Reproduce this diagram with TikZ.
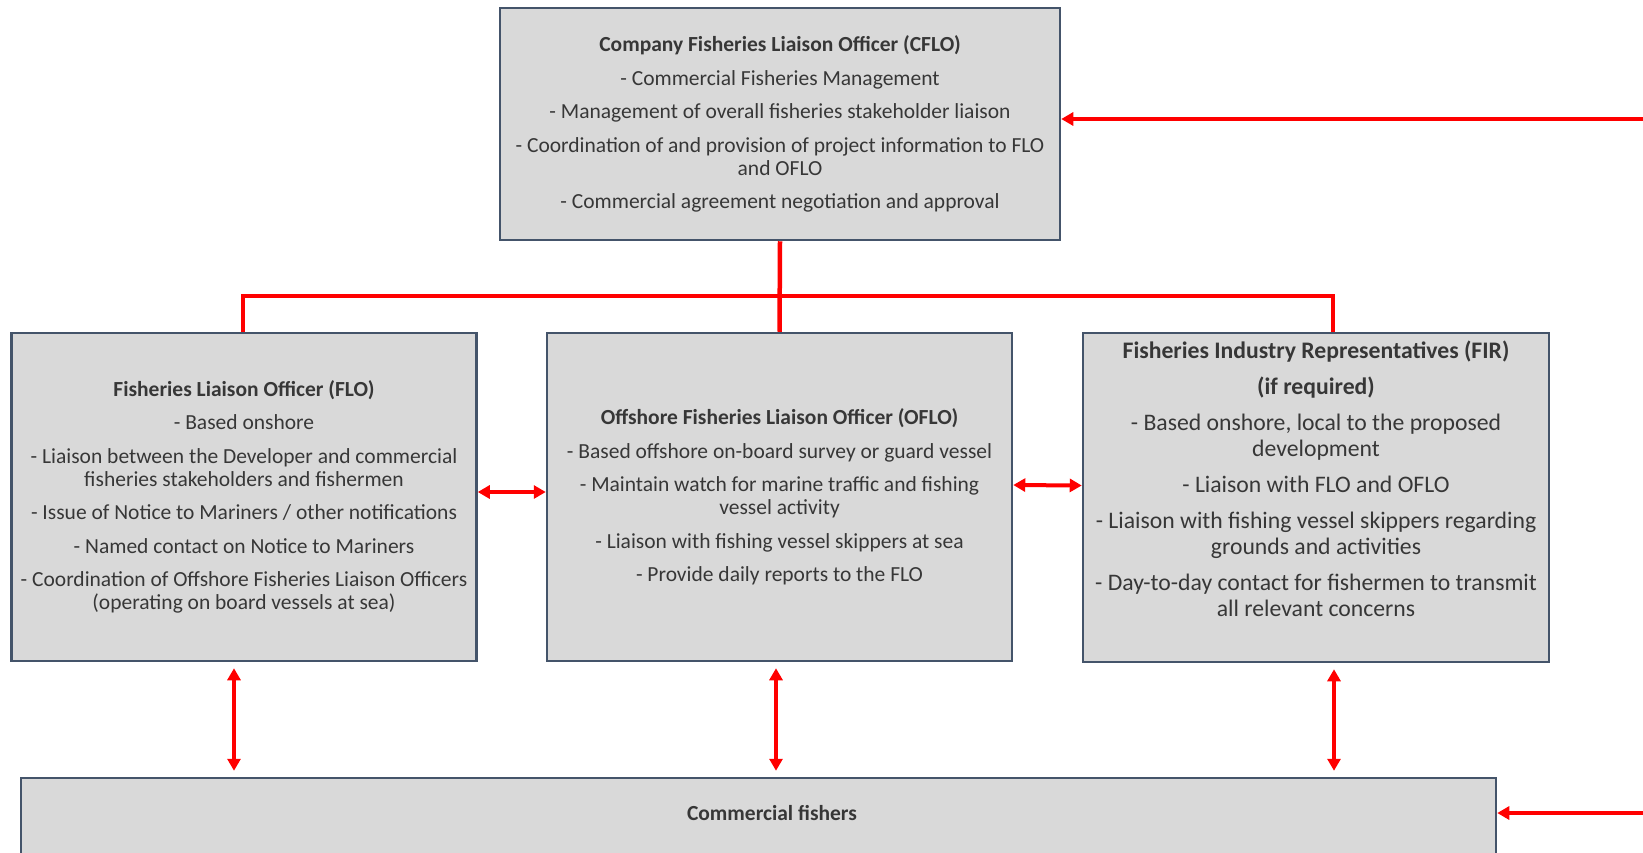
\documentclass[tikz,border=0pt]{standalone}
\usepackage{fontspec}
\setmainfont{Carlito}
\usetikzlibrary{arrows.meta,calc}
\definecolor{boxfill}{RGB}{217,217,217}
\definecolor{boxline}{RGB}{68,84,106}
\definecolor{txt}{RGB}{55,55,55}
\definecolor{lnk}{RGB}{255,0,0}
\tikzset{
  orgbox/.style={draw=boxline,line width=2.5pt,fill=boxfill,rectangle,inner sep=0pt},
  boxtext/.style={align=center,text=txt,font=\fontsize{21.5}{23}\selectfont,inner sep=0pt},
  firtext/.style={align=center,text=txt,font=\fontsize{23.7}{26}\selectfont,inner sep=0pt},
  conn/.style={draw=lnk,line width=4.5pt},
  dblarrow/.style={draw=lnk,line width=4pt,{Triangle[length=12pt,width=13pt]}-{Triangle[length=12pt,width=13pt]}},
  inarrow/.style={draw=lnk,line width=4pt,-{Triangle[length=12pt,width=13pt]}}
}
\begin{document}
\begin{tikzpicture}[x=1pt,y=-1pt]
\clip (0,0) rectangle (1643,852);
\fill[white] (0,0) rectangle (1643,852);
% boxes
\node[orgbox,minimum width=560pt,minimum height=232pt] (CFLO) at (780,124) {};
\node[orgbox,minimum width=465pt,minimum height=328pt] (FLO) at (244,497) {};
\node[orgbox,minimum width=465pt,minimum height=328pt] (OFLO) at (779.5,497) {};
\node[orgbox,minimum width=466pt,minimum height=329pt] (FIR) at (1316,497.5) {};
\node[orgbox,minimum width=1475pt,minimum height=160pt] (CF) at (758.5,858) {};
% texts
\node[boxtext] (CFLOt) at (CFLO.center) {\textbf{Company Fisheries Liaison Officer (CFLO)}\\[10.5pt]
- Commercial Fisheries Management\\[10.5pt]
- Management of overall fisheries stakeholder liaison\\[10.5pt]
- Coordination of and provision of project information to FLO\\ and OFLO\\[10.5pt]
- Commercial agreement negotiation and approval};
\node[boxtext] (FLOt) at (FLO.center) {\textbf{Fisheries Liaison Officer (FLO)}\\[10.5pt]
- Based onshore\\[10.5pt]
- Liaison between the Developer and commercial\\ fisheries stakeholders and fishermen\\[10.5pt]
- Issue of Notice to Mariners / other notifications\\[10.5pt]
- Named contact on Notice to Mariners\\[10.5pt]
- Coordination of Offshore Fisheries Liaison Officers\\ (operating on board vessels at sea)};
\node[boxtext] (OFLOt) at (OFLO.center) {\textbf{Offshore Fisheries Liaison Officer (OFLO)}\\[10.5pt]
- Based offshore on-board survey or guard vessel\\[10.5pt]
- Maintain watch for marine traffic and fishing\\ vessel activity\\[10.5pt]
- Liaison with fishing vessel skippers at sea\\[10.5pt]
- Provide daily reports to the FLO};
\node[firtext] (FIRt) at ($(FIR.center)+(0,-19)$) {\textbf{Fisheries Industry Representatives (FIR)}\\[10pt]
\textbf{(if required)}\\[10pt]
- Based onshore, local to the proposed\\ development\\[10pt]
- Liaison with FLO and OFLO\\[10pt]
- Liaison with fishing vessel skippers regarding\\ grounds and activities\\[10pt]
- Day-to-day contact for fishermen to transmit\\ all relevant concerns};
\node[boxtext] (CFt) at (772,813) {\textbf{Commercial fishers}};
% tree connectors
\coordinate (busR) at (1333,296);
\draw[conn] (CFLO.south) -- (OFLO.north);
\draw[conn] ([xshift=-1pt]FLO.north) |- (busR) -- (busR |- FIR.north);
% horizontal double arrows
\draw[dblarrow] ([yshift=5pt]FLO.east) -- ([yshift=5pt]OFLO.west);
\draw[dblarrow] ([yshift=12pt]OFLO.east) -- ([yshift=12pt]FIR.west);
% vertical double arrows
\draw[dblarrow] ([xshift=-10pt,yshift=-6pt]FLO.south) -- ([xshift=-10pt,yshift=6pt]FLO.south |- CF.north);
\draw[dblarrow] ([xshift=-3.5pt,yshift=-6pt]OFLO.south) -- ([xshift=-3.5pt,yshift=6pt]OFLO.south |- CF.north);
\draw[dblarrow] ([xshift=18pt,yshift=-6pt]FIR.south) -- ([xshift=18pt,yshift=6pt]FIR.south |- CF.north);
% incoming arrows from right
\coordinate (inA) at (1643,119);
\coordinate (inB) at (1643,813);
\draw[inarrow] (inA) -- (inA -| CFLO.east);
\draw[inarrow] (inB) -- (inB -| CF.east);
\end{tikzpicture}
\end{document}
